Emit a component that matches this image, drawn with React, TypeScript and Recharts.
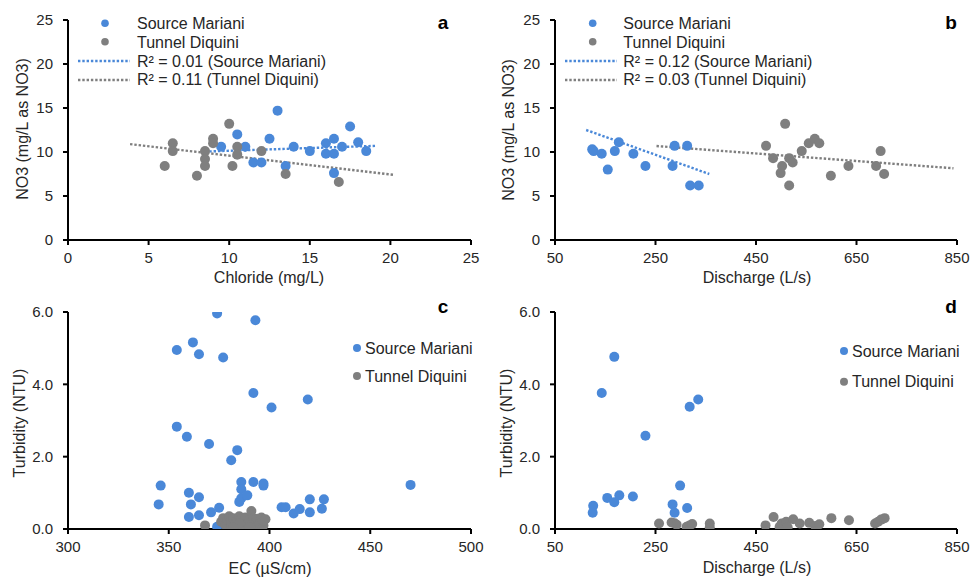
import React from 'react';
import { ScatterChart, Scatter, XAxis, YAxis, ReferenceLine } from 'recharts';

// ---------- Panel a: NO3 vs Chloride ----------
const aMarianiCl = [9.5, 10.5, 11.0, 11.5, 12.0, 12.5, 13.0, 13.5, 14.0, 15.0, 16.0, 16.0, 16.5, 16.5, 16.5, 17.0, 17.5, 18.0, 18.5];
const aMarianiNO3 = [10.6, 12.0, 10.6, 8.8, 8.8, 11.5, 14.7, 8.4, 10.6, 10.1, 11.0, 9.8, 11.5, 9.8, 7.6, 10.6, 12.9, 11.1, 10.1];
const aDiquiniCl = [6.0, 6.5, 6.5, 8.0, 8.5, 8.5, 8.5, 9.0, 9.0, 10.0, 10.2, 10.5, 10.5, 12.0, 13.5, 16.8];
const aDiquiniNO3 = [8.4, 11.0, 10.1, 7.3, 10.1, 9.2, 8.4, 11.5, 11.0, 13.2, 8.4, 10.6, 9.7, 10.1, 7.5, 6.6];
const aTrendMarianiX = [8.5, 19.1];
const aTrendMarianiY = [10.05, 10.7];
const aTrendDiquiniX = [3.85, 20.2];
const aTrendDiquiniY = [10.9, 7.4];

// ---------- Panel b: NO3 vs Discharge ----------
const bMarianiQ = [124, 127, 143, 155, 169, 177, 206, 230, 284, 288, 313, 319, 336];
const bMarianiNO3 = [10.3, 10.1, 9.8, 8.0, 10.1, 11.1, 9.8, 8.4, 8.4, 10.7, 10.7, 6.2, 6.2];
const bDiquiniQ = [470, 484, 499, 502, 508, 516, 516, 523, 541, 555, 567, 576, 599, 634, 689, 698, 705];
const bDiquiniNO3 = [10.7, 9.3, 7.6, 8.4, 13.2, 9.3, 6.2, 8.8, 10.1, 11.0, 11.5, 11.0, 7.3, 8.4, 8.4, 10.1, 7.5];
const bTrendMarianiX = [112, 357];
const bTrendMarianiY = [12.5, 7.5];
const bTrendDiquiniX = [252, 843];
const bTrendDiquiniY = [10.68, 8.15];

// ---------- Panel c: Turbidity vs EC ----------
const cMarianiEC = [374, 393, 362, 354, 365, 377, 392, 419, 401, 354, 359, 370, 384, 381, 346, 345, 360, 361, 360, 365, 365, 371, 375, 374, 379, 386, 386, 386, 385, 389, 392, 397, 397, 406, 408, 412, 415, 420, 420, 426, 427, 470];
const cMarianiTurb = [5.96, 5.77, 5.16, 4.95, 4.83, 4.74, 3.76, 3.58, 3.36, 2.83, 2.55, 2.35, 2.18, 1.9, 1.2, 0.68, 1.0, 0.68, 0.33, 0.88, 0.38, 0.46, 0.59, 0.06, 0.05, 1.3, 1.1, 0.85, 0.75, 0.93, 1.3, 1.2, 1.26, 0.6, 0.6, 0.43, 0.55, 0.82, 0.46, 0.56, 0.82, 1.22];
const cDiquiniEC = [368, 376, 377, 378, 379, 380, 381, 381, 382, 383, 384, 384, 385, 386, 386, 387, 388, 388, 389, 390, 391, 391, 392, 393, 394, 394, 395, 396, 397, 397, 398, 385, 382, 390];
const cDiquiniTurb = [0.1, 0.2, 0.3, 0.12, 0.25, 0.35, 0.08, 0.2, 0.3, 0.15, 0.05, 0.25, 0.35, 0.12, 0.28, 0.2, 0.06, 0.32, 0.15, 0.25, 0.5, 0.1, 0.3, 0.18, 0.06, 0.28, 0.15, 0.32, 0.1, 0.22, 0.27, 0.15, 0.05, 0.05];

// ---------- Panel d: Turbidity vs Discharge ----------
const dMarianiQ = [125, 126, 143, 154, 168, 168, 178, 205, 230, 284, 288, 299, 313, 318, 335];
const dMarianiTurb = [0.45, 0.64, 3.76, 0.86, 4.76, 0.74, 0.93, 0.9, 2.58, 0.68, 0.45, 1.2, 0.58, 3.38, 3.58];
const dDiquiniQ = [257, 282, 288, 292, 312, 318, 323, 358, 358, 469, 485, 497, 501, 510, 513, 524, 537, 556, 568, 576, 600, 635, 687, 693, 699, 706];
const dDiquiniTurb = [0.15, 0.18, 0.16, 0.12, 0.06, 0.1, 0.14, 0.15, 0.05, 0.1, 0.33, 0.06, 0.15, 0.2, 0.05, 0.27, 0.15, 0.17, 0.08, 0.13, 0.3, 0.24, 0.15, 0.2, 0.26, 0.3];

// ---------- Axis ticks & labels ----------
const ticksNO3 = [0, 5, 10, 15, 20, 25];
const ticksTurb = [0, 2, 4, 6];
const ticksCl = [0, 5, 10, 15, 20, 25];
const ticksQ = [50, 250, 450, 650, 850];
const ticksEC = [300, 350, 400, 450, 500];
const seriesNames = ['Source Mariani', 'Tunnel Diquini'];
const trendNamesA = ['R² = 0.01 (Source Mariani)', 'R² = 0.11 (Tunnel Diquini)'];
const trendNamesB = ['R² = 0.12 (Source Mariani)', 'R² = 0.03 (Tunnel Diquini)'];

const BLUE = '#4a88d8';
const GRAY = '#7f7f7f';
const TEXT = '#262626';
const FONT = '"Liberation Sans", Arial, sans-serif';

const zip = (xs: number[], ys: number[]) => xs.map((x, i) => ({ x, y: ys[i] }));

const dot = (color: string) => (p: any) => <circle cx={p.cx} cy={p.cy} r={5} fill={color} />;

const tickStyle = { fill: TEXT, fontSize: 15, fontFamily: FONT };
const axisLine = { stroke: '#000', strokeWidth: 2 };
const tickLine = { stroke: '#000', strokeWidth: 2 };

type PanelProps = {
  left: number;
  top: number;
  width: number;
  height: number;
  margin: { top: number; right: number; bottom: number; left: number };
  xDomain: [number, number];
  xTicks: number[];
  yDomain: [number, number];
  yTicks: number[];
  yFmt?: (v: number) => string;
  mariani: { x: number; y: number }[];
  diquini: { x: number; y: number }[];
  trends?: { pts: { x: number; y: number }[]; color: string }[];
};

function Panel(p: PanelProps) {
  return (
    <div style={{ position: 'absolute', left: p.left, top: p.top }}>
      <ScatterChart width={p.width} height={p.height} margin={p.margin}>
        <XAxis
          type="number"
          dataKey="x"
          domain={p.xDomain}
          ticks={p.xTicks}
          allowDataOverflow
          height={30}
          tick={tickStyle}
          tickSize={5}
          tickMargin={7}
          axisLine={axisLine}
          tickLine={tickLine}
        />
        <YAxis
          type="number"
          dataKey="y"
          domain={p.yDomain}
          ticks={p.yTicks}
          allowDataOverflow
          width={60}
          tick={tickStyle}
          tickSize={5}
          tickMargin={10}
          tickFormatter={p.yFmt}
          axisLine={axisLine}
          tickLine={tickLine}
        />
        <Scatter data={p.mariani} fill={BLUE} shape={dot(BLUE)} isAnimationActive={false} />
        <Scatter data={p.diquini} fill={GRAY} shape={dot(GRAY)} isAnimationActive={false} />
        {(p.trends || []).map((t, i) => (
          <ReferenceLine
            key={i}
            segment={t.pts as any}
            stroke={t.color}
            strokeWidth={2.4}
            strokeDasharray="2.4 1.9"
            ifOverflow="visible"
          />
        ))}
      </ScatterChart>
    </div>
  );
}

function LegendBlock(props: {
  dotX: number; textX: number; rows: number[]; dotRows: number[]; lineRows?: number[]; lineX?: [number, number];
  trendNames?: string[]; r: number;
}) {
  const { dotX, textX, rows, dotRows, lineRows, lineX, trendNames, r } = props;
  return (
    <g>
      {seriesNames.map((n, i) => (
        <g key={n}>
          <circle cx={dotX} cy={dotRows[i]} r={r} fill={i === 0 ? BLUE : GRAY} />
          <text x={textX} y={rows[i]} fontSize={16} fill={TEXT} fontFamily={FONT}>{n}</text>
        </g>
      ))}
      {trendNames && lineRows && lineX &&
        trendNames.map((n, i) => (
          <g key={n}>
            <line x1={lineX[0]} x2={lineX[1]} y1={lineRows[i]} y2={lineRows[i]} stroke={i === 0 ? BLUE : GRAY} strokeWidth={2.4} strokeDasharray="2.4 1.9" />
            <text x={textX} y={rows[i + 2]} fontSize={16} fill={TEXT} fontFamily={FONT}>{n}</text>
          </g>
        ))}
    </g>
  );
}

export default function App() {
  const m1 = { top: 20, right: 24, bottom: 20, left: 8 };
  const m2 = { top: 20, right: 14, bottom: 20, left: 15 };
  const m3 = { top: 22, right: 24, bottom: 19, left: 8 };
  const m4 = { top: 22, right: 14, bottom: 19, left: 15 };
  const fmt1 = (v: number) => v.toFixed(1);
  const labelStyle = { fontSize: 16, fill: TEXT, fontFamily: FONT } as const;
  return (
    <div style={{ position: 'absolute', left: 0, top: 0, width: 971, height: 578, background: '#fff', overflow: 'hidden' }}>
      <Panel left={0} top={0} width={495} height={290} margin={m1}
        xDomain={[0, 25]} xTicks={ticksCl} yDomain={[0, 25]} yTicks={ticksNO3}
        mariani={zip(aMarianiCl, aMarianiNO3)} diquini={zip(aDiquiniCl, aDiquiniNO3)}
        trends={[
          { pts: zip(aTrendMarianiX, aTrendMarianiY), color: BLUE },
          { pts: zip(aTrendDiquiniX, aTrendDiquiniY), color: GRAY },
        ]} />
      <Panel left={480} top={0} width={491} height={290} margin={m2}
        xDomain={[50, 850]} xTicks={ticksQ} yDomain={[0, 25]} yTicks={ticksNO3}
        mariani={zip(bMarianiQ, bMarianiNO3)} diquini={zip(bDiquiniQ, bDiquiniNO3)}
        trends={[
          { pts: zip(bTrendMarianiX, bTrendMarianiY), color: BLUE },
          { pts: zip(bTrendDiquiniX, bTrendDiquiniY), color: GRAY },
        ]} />
      <Panel left={0} top={290} width={495} height={288} margin={m3}
        xDomain={[300, 500]} xTicks={ticksEC} yDomain={[0, 6]} yTicks={ticksTurb} yFmt={fmt1}
        mariani={zip(cMarianiEC, cMarianiTurb)} diquini={zip(cDiquiniEC, cDiquiniTurb)} />
      <Panel left={480} top={290} width={491} height={288} margin={m4}
        xDomain={[50, 850]} xTicks={ticksQ} yDomain={[0, 6]} yTicks={ticksTurb} yFmt={fmt1}
        mariani={zip(dMarianiQ, dMarianiTurb)} diquini={zip(dDiquiniQ, dDiquiniTurb)} />

      <svg width={971} height={578} style={{ position: 'absolute', left: 0, top: 0, pointerEvents: 'none' }}>
        {/* axis titles */}
        <text x={269} y={283} textAnchor="middle" {...labelStyle}>Chloride (mg/L)</text>
        <text x={757} y={283} textAnchor="middle" {...labelStyle}>Discharge (L/s)</text>
        <text x={270} y={574} textAnchor="middle" {...labelStyle}>EC (µS/cm)</text>
        <text x={757} y={573} textAnchor="middle" {...labelStyle}>Discharge (L/s)</text>
        <text transform="translate(28,129) rotate(-90)" textAnchor="middle" {...labelStyle}>NO3 (mg/L as NO3)</text>
        <text transform="translate(514,130) rotate(-90)" textAnchor="middle" {...labelStyle}>NO3 (mg/L as NO3)</text>
        <text transform="translate(25,423) rotate(-90)" textAnchor="middle" {...labelStyle}>Turbidity (NTU)</text>
        <text transform="translate(512,423) rotate(-90)" textAnchor="middle" {...labelStyle}>Turbidity (NTU)</text>
        {/* panel letters */}
        <text x={443} y={29} textAnchor="middle" fontSize={19} fontWeight="bold" fill="#000" fontFamily={FONT}>a</text>
        <text x={951} y={29} textAnchor="middle" fontSize={19} fontWeight="bold" fill="#000" fontFamily={FONT}>b</text>
        <text x={443} y={313} textAnchor="middle" fontSize={19} fontWeight="bold" fill="#000" fontFamily={FONT}>c</text>
        <text x={951} y={313} textAnchor="middle" fontSize={19} fontWeight="bold" fill="#000" fontFamily={FONT}>d</text>
        {/* legends */}
        <LegendBlock dotX={105} textX={137} rows={[28.5, 47.5, 66.5, 85]} dotRows={[23.3, 41.7]}
          lineRows={[61, 80]} lineX={[78, 130]} trendNames={trendNamesA} r={3.8} />
        <LegendBlock dotX={592.7} textX={623.3} rows={[28.5, 47.5, 66.5, 85]} dotRows={[23.3, 41.7]}
          lineRows={[61, 80]} lineX={[565, 617]} trendNames={trendNamesB} r={3.8} />
        <LegendBlock dotX={357} textX={365} rows={[353.5, 381.5]} dotRows={[348, 376]} r={4} />
        <LegendBlock dotX={844} textX={852} rows={[356.5, 387]} dotRows={[351, 381.7]} r={4} />
      </svg>
    </div>
  );
}
